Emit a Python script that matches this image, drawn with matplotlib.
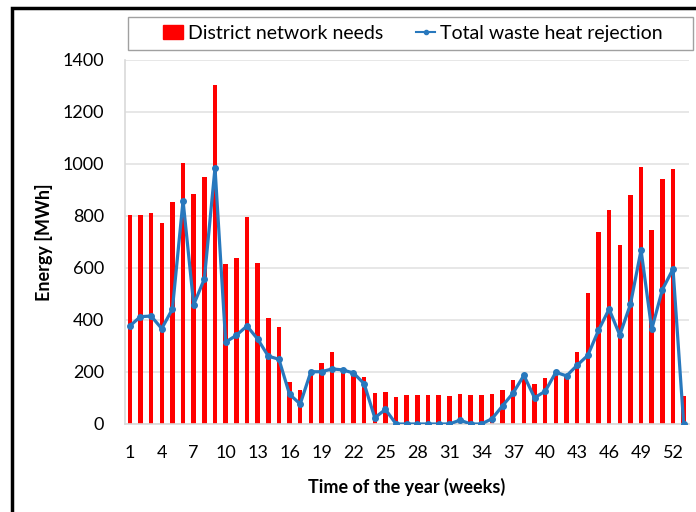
import matplotlib
matplotlib.use("Agg")
import matplotlib.pyplot as plt
from matplotlib.patches import Rectangle
from matplotlib.lines import Line2D

weeks = list(range(1, 54))
district_needs = [803, 803, 810, 774, 855, 1003, 885, 951, 1305, 614,
                  638, 796, 619, 408, 374, 162, 132, 208, 236, 276,
                  214, 201, 179, 118, 123, 105, 110, 110, 110, 110,
                  108, 114, 110, 110, 114, 131, 169, 174, 154, 177,
                  197, 187, 278, 505, 740, 823, 688, 881, 988, 745,
                  942, 979, 108]
waste_heat = [377, 413, 415, 367, 442, 859, 459, 558, 985, 315,
              341, 377, 327, 261, 249, 114, 77, 201, 201, 212,
              208, 196, 155, 24, 56, 0, 0, 0, 0, 0,
              0, 15, 0, 0, 20, 70, 120, 187, 101, 126,
              199, 185, 226, 264, 360, 442, 342, 460, 669, 364,
              517, 596, 0]
xtick_labels = [1, 4, 7, 10, 13, 16, 19, 22, 25, 28, 31, 34, 37, 40, 43, 46, 49, 52]
yticks = [0, 200, 400, 600, 800, 1000, 1200, 1400]

plt.rcParams['font.family'] = ['Lato', 'DejaVu Sans']

W, H = 696, 512
fig = plt.figure(figsize=(W / 100, H / 100), dpi=100)
ax = fig.add_axes([125 / W, 1 - 424 / H, (689 - 125) / W, (424 - 60) / H])

red = '#FF0000'
blue = '#2878BD'
ax.bar(weeks, district_needs, width=0.42, color=red, zorder=2,
       label='District network needs')
ax.plot(weeks, waste_heat, color=blue, lw=2.3, marker='o', ms=4, zorder=3,
        label='Total waste heat rejection')

ax.set_xlim(0.55, 53.5)
ax.set_ylim(0, 1400)
ax.set_yticks(yticks)
ax.set_xticks(xtick_labels)
ax.set_xticklabels([str(v) for v in xtick_labels])
ax.tick_params(axis='both', length=0, labelsize=13, colors='black')
ax.tick_params(axis='x', pad=15)
ax.tick_params(axis='y', pad=15)
ax.grid(axis='y', color='#E3E3E3', lw=1.2, zorder=0)
ax.set_axisbelow(True)
for s in ['top', 'right']:
    ax.spines[s].set_visible(False)
for s in ['left', 'bottom']:
    ax.spines[s].set_color('#D9D9D9')
    ax.spines[s].set_linewidth(1.2)

ax.set_xlabel('Time of the year (weeks)', fontsize=13, fontweight='bold', labelpad=12)
ax.set_ylabel('Energy [MWh]', fontsize=13, fontweight='bold', labelpad=7)

# legend box
fig.patches.append(Rectangle((128 / W, 1 - 50 / H), (693 - 128) / W, 33 / H,
                             transform=fig.transFigure, fill=True, facecolor='white',
                             edgecolor='#A0A0A0', lw=1.0, zorder=5))
handles = [Rectangle((0, 0), 1, 1, color=red),
           Line2D([0], [0], color=blue, lw=1.5, marker='o', ms=3)]
leg = fig.legend(handles, ['District network needs', 'Total waste heat rejection'],
                 loc='center', bbox_to_anchor=(413 / W, 1 - 33.5 / H),
                 ncol=2, fontsize=14, frameon=False,
                 handlelength=1.0, handletextpad=0.25,
                 columnspacing=1.7, borderpad=0.3)
leg.set_zorder(6)

# outer black frame (left and top visible)
fig.patches.append(Rectangle((12 / W, -0.1), 1.2, 1 - 8 / H + 0.1,
                             transform=fig.transFigure, fill=False,
                             edgecolor='black', lw=2.5))

fig.savefig('out.png', dpi=100)
